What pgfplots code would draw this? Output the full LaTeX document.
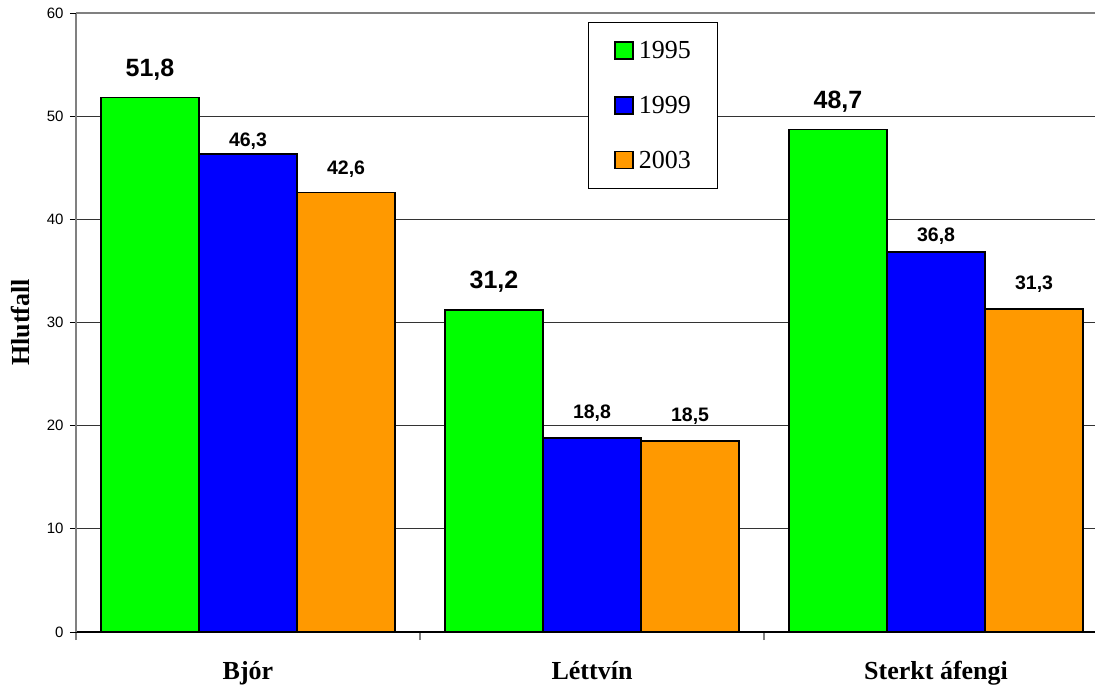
\documentclass[border=0pt]{standalone}
\usepackage{pgfplots}
\usepackage{pgfplotstable}
\pgfplotsset{compat=1.18}
\usepackage{fontspec}
\setmainfont{Liberation Sans}
\newfontfamily\tnr{Liberation Serif}

\definecolor{cgreen}{HTML}{00FF00}
\definecolor{cblue}{HTML}{0000FF}
\definecolor{corange}{HTML}{FF9900}

% x = bar centre, y = value, off = label centre above bar top (pt)
\pgfplotstableread{
x y off
-0.285 51.8 28
0.715 31.2 28.5
1.715 48.7 28
}\greendata
\pgfplotstableread{
x y off
0 46.3 13
1 18.8 25
2 36.8 16
}\bluedata
\pgfplotstableread{
x y off
0.285 42.6 23
1.285 18.5 25
2.285 31.3 25
}\orangedata

\begin{document}
\begin{tikzpicture}
\useasboundingbox (-76pt,-56pt) rectangle (1019pt,632pt);
\begin{axis}[
    at={(0pt,0pt)}, anchor=south west,
    scale only axis,
    width=1019pt, height=619pt,
    xmin=-0.5, xmax=2.462,
    ymin=0, ymax=60,
    axis x line=bottom, axis y line=left,
    axis line style={-},
    x axis line style={black, line width=1.5pt},
    y axis line style={black!50, line width=1.8pt},
    xtick={0,1,2},
    xticklabels={Bjór, Léttvín, Sterkt áfengi},
    major x tick style={draw=none},
    minor xtick={-0.5,0.5,1.5},
    minor x tick style={black!50, line width=1.2pt},
    minor tick length=8pt,
    xticklabel style={font=\tnr\bfseries\fontsize{26}{26}\selectfont, anchor=base, yshift=-41pt},
    ytick={0,10,20,30,40,50},
    extra y ticks={60},
    extra y tick style={major grid style={black!50, line width=2pt}},
    ymajorgrids,
    major grid style={black!80, line width=1pt},
    tick align=outside,
    major tick length=6pt,
    major y tick style={black, line width=0.9pt},
    yticklabel style={font=\fontsize{15}{15}\selectfont, xshift=-3pt},
    /pgf/number format/assume math mode=true,
    every axis y label/.style={at={(axis description cs:0,0.5)}, xshift=-55.5pt, rotate=90, anchor=center},
    ylabel={Hlutfall},
    ylabel style={font=\tnr\bfseries\fontsize{26}{26}\selectfont},
    ybar, bar width=0.285, bar shift=0pt,
    every axis plot/.append style={draw=black, line width=1.8pt},
    nodes near coords={\pgfmathprintnumber[use comma, fixed, fixed zerofill, precision=1]{\pgfplotspointmeta}},
    visualization depends on={\thisrow{off}\as\laboff},
    every node near coord/.append style={anchor=center, yshift=\laboff pt, font=\bfseries\fontsize{19.5}{19.5}\selectfont, black},
    legend image code/.code={\draw[#1, line width=1.5pt] (0pt,-8.5pt) rectangle (18pt,8.5pt);},
    legend style={
        at={(axis description cs:0.5025,0.985)}, anchor=north west,
        draw=black, line width=0.8pt, fill=white,
        inner xsep=26pt, inner ysep=18.5pt,
        row sep=36.4pt, column sep=5pt,
        nodes={inner sep=0pt, text height=17pt, text depth=0pt, font=\tnr\fontsize{26}{26}\selectfont},
    },
    legend cell align=left,
]
\addplot[fill=cgreen, every node near coord/.append style={font=\bfseries\fontsize{25}{25}\selectfont}] table[x=x, y=y] {\greendata};
\addlegendentry{1995}
\addplot[fill=cblue] table[x=x, y=y] {\bluedata};
\addlegendentry{1999}
\addplot[fill=corange] table[x=x, y=y] {\orangedata};
\addlegendentry{2003}
\end{axis}
\end{tikzpicture}
\end{document}
